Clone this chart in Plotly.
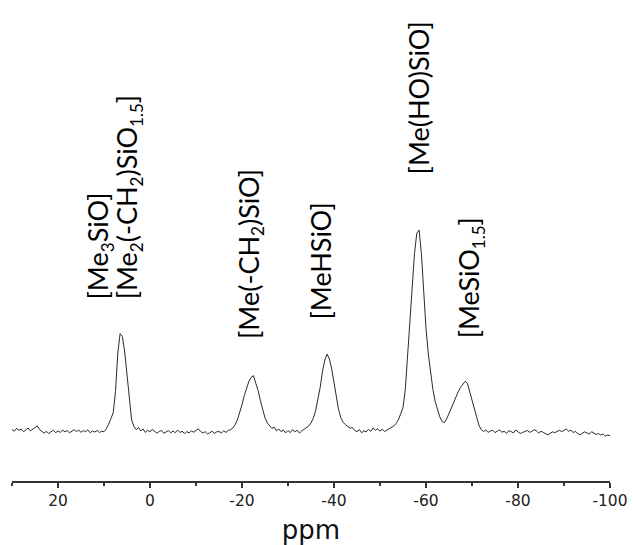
import numpy as np
import plotly.graph_objects as go

# chemical shift grid (ppm), 30 -> -100 in 0.5 ppm steps
ppm_start, ppm_stop, ppm_step = 30.0, -100.0, -0.5
ppm = np.round(np.arange(ppm_start, ppm_stop + ppm_step / 2, ppm_step), 2)

# 29Si NMR intensity (normalised, tallest peak = 100)
intensity = [
    1.2, 0.4, 1.8, 0.9, 1.5, 0.2, 1.1, 2.0, 0.6, 1.4,
    2.6, 3.0, 1.2, 0.3, -0.5, 0.4, -0.8, 0.2, 0.9, -0.3,
    0.6, -0.2, 1.0, 0.1, 0.8, -0.4, 0.5, 1.2, 0.3, 0.9,
    -0.1, 0.7, 0.2, 1.1, -0.3, 0.5, 0.0, 0.8, -0.2, 0.4,
    0.2, 1.6, 3.8, 6.4, 9.5, 20.0, 39.0, 48.5, 47.0, 39.5,
    28.0, 15.5, 6.0, 2.8, 1.2, 2.2, 0.6, 1.5, -0.2, 0.9,
    0.2, 1.3, 0.4, -0.5, 0.3, 0.8, -0.6, 0.1, 0.7, -0.4,
    0.5, -0.3, 1.0, -0.2, 0.4, -0.7, 0.2, -0.4, 0.6, -0.1,
    0.9, 1.6, 0.3, -0.5, 0.2, -0.9, -0.3, 0.4, -0.6, 0.1,
    0.3, -0.5, 0.6, -0.2, 0.8, 1.2, 2.0, 3.6, 6.0, 9.5,
    13.5, 18.0, 21.5, 25.0, 27.0, 27.8, 24.0, 20.5, 15.5, 10.5,
    7.0, 4.5, 3.0, 1.8, 2.4, 0.6, 1.5, 0.2, 1.0, -0.4,
    0.8, -0.3, 1.2, 0.2, 0.9, -0.5, 0.6, 1.4, 1.8, 3.0,
    4.5, 6.8, 10.5, 15.5, 22.0, 30.0, 35.5, 38.4, 36.0, 31.0,
    24.0, 17.0, 11.0, 7.0, 4.8, 3.6, 2.8, 1.9, 2.3, 0.8,
    0.2, 1.2, -0.3, 0.6, 0.1, 1.3, 0.4, 2.0, 0.9, 1.6,
    0.5, 1.4, 0.3, 0.9, 1.5, 2.2, 3.0, 4.2, 6.0, 9.0,
    12.0, 21.0, 36.5, 53.0, 70.0, 88.0, 98.0, 99.5, 88.0, 68.5,
    51.0, 38.5, 29.0, 21.0, 15.0, 10.8, 7.5, 5.2, 4.6, 6.5,
    9.2, 12.0, 15.0, 17.5, 19.8, 22.0, 23.5, 25.0, 24.0, 19.5,
    15.0, 11.0, 7.5, 3.5, 1.2, 0.3, 1.0, -0.2, 0.6, 0.9,
    -0.3, 0.5, 1.1, -0.1, 0.4, -0.6, 0.7, 0.2, -0.4, 1.0,
    0.1, -0.7, -0.2, 0.5, 0.8, -0.1, 0.3, 1.2, 0.6, -0.5,
    0.4, -0.2, -0.9, -1.4, -0.6, 0.1, -0.3, 0.5, 0.9, 0.2,
    0.7, 1.5, 0.4, 0.9, -0.2, 0.3, -0.8, -1.3, -0.5, 0.1,
    -0.4, -1.0, 0.2, -0.6, -1.2, -0.7, -1.5, -0.9, -2.0, -1.4,
    -1.8,
]

# x-axis tick values and labels (hyphen minus, as in the original)
tick_vals = [20, 0, -20, -40, -60, -80, -100]
tick_text = ["20", "0", "-20", "-40", "-60", "-80", "-100"]


def sub(s):
    return "<sub><span style='font-size:17px'>" + s + "</span></sub>"


# peak assignments: label text, label x (ppm), label bottom (intensity units)
label_text = [
    "[Me" + sub("3") + "SiO]",
    "[Me" + sub("2") + "(-CH" + sub("2") + ")SiO" + sub("1.5") + "]",
    "[Me(-CH" + sub("2") + ")SiO]",
    "[MeHSiO]",
    "[Me(HO)SiO]",
    "[MeSiO" + sub("1.5") + "]",
]
label_ppm = [11.0, 4.6, -21.8, -37.0, -58.4, -69.6]
label_base = [64.3, 64.3, 45.0, 54.3, 126.0, 45.0]

fig = go.Figure()
fig.add_trace(go.Scatter(
    x=ppm, y=intensity, mode="lines",
    line=dict(color="#2a2a2a", width=1),
    hoverinfo="skip", showlegend=False,
))

for t, xp, yb in zip(label_text, label_ppm, label_base):
    fig.add_annotation(
        x=xp, y=yb, xref="x", yref="y", text=t, showarrow=False,
        textangle=-90, xanchor="center", yanchor="bottom",
        font=dict(family="Lato", size=27, color="#000000"),
    )

fig.update_layout(
    width=633, height=545,
    margin=dict(l=12, r=23, t=0, b=64),
    paper_bgcolor="white", plot_bgcolor="white",
    xaxis=dict(
        range=[30, -100], tickmode="array", tickvals=tick_vals, ticktext=tick_text,
        showline=True, linecolor="#333333", linewidth=1.5,
        ticks="outside", ticklen=5, tickwidth=1.5, tickcolor="#333333",
        showgrid=False, zeroline=False,
        tickfont=dict(family="DejaVu Sans", size=15.5, color="#222222"),
        minor=dict(tickmode="linear", tick0=10, dtick=20, ticks="outside", ticklen=3,
                   tickwidth=1.5, tickcolor="#333333", showgrid=False),
        title=dict(text="ppm", font=dict(family="DejaVu Sans", size=26, color="#111111"), standoff=12),
    ),
    yaxis=dict(range=[-24.1, 212.8], visible=False, showgrid=False, zeroline=False),
)

fig.write_html("out.html", config={"displayModeBar": False},
               post_script="document.body.style.margin='0px';")
